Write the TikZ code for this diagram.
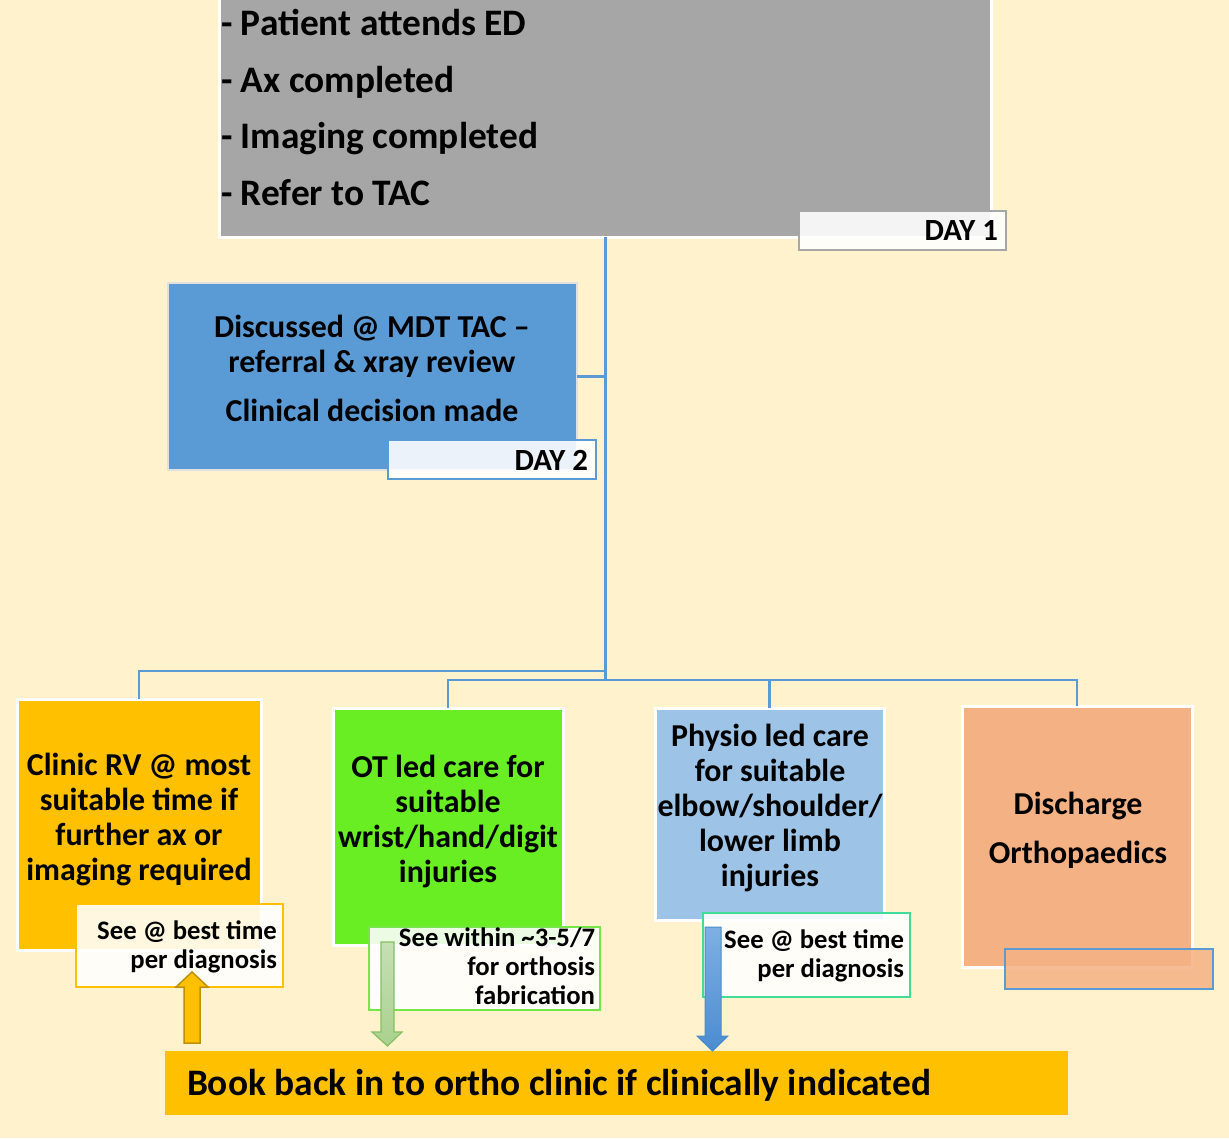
\documentclass[tikz,border=0pt]{standalone}
\usepackage{fontspec}
\setmainfont{Carlito}
\definecolor{bgc}{HTML}{FFF2CC}
\definecolor{grayc}{HTML}{A6A6A6}
\definecolor{blued}{HTML}{5B9BD5}
\definecolor{orangec}{HTML}{FFC000}
\definecolor{greenc}{HTML}{68EE22}
\definecolor{bluel}{HTML}{9DC3E6}
\definecolor{salmonc}{HTML}{F4B183}
\definecolor{tealc}{HTML}{40DC98}
\definecolor{greenb}{HTML}{74E646}
\definecolor{arrG}{HTML}{A9D18E}
\definecolor{arrGl}{HTML}{C5E0B4}
\definecolor{arrGd}{HTML}{86BF63}
\definecolor{arrO}{HTML}{BF9000}
\definecolor{arrB}{HTML}{4A8CD0}
\definecolor{arrBl}{HTML}{7FB0E2}
\begin{document}
\begin{tikzpicture}[x=1pt,y=-1pt,
  box/.style={rectangle, inner sep=0pt, outer sep=0pt, draw=white, line width=3pt},
  tag/.style={rectangle, inner sep=0pt, outer sep=0pt, fill=white, fill opacity=0.88, line width=2.2pt},
  conn/.style={draw=blued, line width=2.5pt},
  tbig/.style={inner sep=0pt, outer sep=0pt, anchor=base west, font=\bfseries\fontsize{37.4}{44}\selectfont},
  tmid/.style={inner sep=0pt, outer sep=0pt, anchor=base, font=\bfseries\fontsize{31.9}{38}\selectfont},
  tsm/.style={inner sep=0pt, outer sep=0pt, anchor=base east, font=\bfseries\fontsize{26.7}{32}\selectfont},
  tday/.style={inner sep=0pt, outer sep=0pt, anchor=base east, font=\bfseries\fontsize{30.8}{36}\selectfont}]
\useasboundingbox (0,0) rectangle (1229,1138);
\fill[bgc] (0,0) rectangle (1229,1138);

% top box
\node[box, fill=grayc, minimum width=772, minimum height=247] (top) at (605,113.5) {};
\node[tbig] (l1) at (221,35) {- Patient attends ED};
\node[tbig] (l2) at (221,92) {- Ax completed};
\node[tbig] (l3) at (221,148) {- Imaging completed};
\node[tbig] (l4) at (221,205) {- Refer to TAC};
\node[tag, draw=grayc, minimum width=207, minimum height=39] (d1) at (902.5,230.5) {};
\node[tday] (d1t) at (998,240) {DAY 1};

% trunk
\coordinate (j1) at (605,671);
\coordinate (j2) at (605,680);
\draw[conn, line width=3pt] (top.south) -- (j2);

% MDT
\node[box, fill=blued, draw=black!12, line width=2.5pt, minimum width=409, minimum height=187] (mdt) at (372.5,376.5) {};
\draw[conn] (mdt.east) -- (mdt.east -| top.south);
\node[tmid] (m1) at (372,337) {Discussed @ MDT TAC –};
\node[tmid] (m2) at (372,372) {referral \& xray review};
\node[tmid] (m3) at (372,421) {Clinical decision made};
\node[tag, draw=blued, minimum width=208, minimum height=39] (d2) at (492,459.5) {};
\node[tday] (d2t) at (588,470) {DAY 2};

% bottom boxes
\node[box, fill=orangec, minimum width=244, minimum height=251] (clinic) at (139,824.5) {};
\node[box, fill=greenc, minimum width=230, minimum height=237] (ot) at (448,826.5) {};
\node[box, fill=bluel, minimum width=229, minimum height=212] (physio) at (769.5,814) {};
\node[box, fill=salmonc, minimum width=230, minimum height=261] (dis) at (1077,836.5) {};

% branches
\draw[conn] (j1) -| (clinic.north);
\draw[conn] (j2) -| (ot.north);
\draw[conn] (j2) -| (physio.north);
\draw[conn] (j2) -| (dis.north);

% box texts
\node[tmid] (c1) at (139,775) {Clinic RV @ most};
\node[tmid] (c2) at (139,810) {suitable time if};
\node[tmid] (c3) at (139,845) {further ax or};
\node[tmid] (c4) at (139,880) {imaging required};

\node[tmid] (o1) at (448,777) {OT led care for};
\node[tmid] (o2) at (448,812) {suitable};
\node[tmid] (o3) at (448,847) {wrist/hand/digit};
\node[tmid] (o4) at (448,882) {injuries};

\node[tmid] (p1) at (770,746) {Physio led care};
\node[tmid] (p2) at (770,781) {for suitable};
\node[tmid] (p3) at (770,816) {elbow/shoulder/};
\node[tmid] (p4) at (770,851) {lower limb};
\node[tmid] (p5) at (770,886) {injuries};

\node[tmid] (x1) at (1078,814) {Discharge};
\node[tmid] (x2) at (1078,863) {Orthopaedics};

% small tags
\node[tag, draw=orangec, minimum width=207, minimum height=83] (s1) at (179.5,945.5) {};
\node[tsm] (s1a) at (277,939) {See @ best time};
\node[tsm] (s1b) at (277,968) {per diagnosis};

\node[tag, draw=greenb, minimum width=231, minimum height=83] (s2) at (484.5,968.5) {};
\node[tsm] (s2a) at (595,946) {See within \textasciitilde3-5/7};
\node[tsm] (s2b) at (595,975) {for orthosis};
\node[tsm] (s2c) at (595,1004) {fabrication};

\node[tag, draw=tealc, minimum width=207, minimum height=84] (s3) at (806.5,955) {};
\node[tsm] (s3a) at (904,948) {See @ best time};
\node[tsm] (s3b) at (904,977) {per diagnosis};

\node[rectangle, inner sep=0pt, fill=salmonc, fill opacity=0.85, draw=blued, line width=2.2pt, minimum width=208, minimum height=40] (ov) at (1109,969) {};

% banner
\node[rectangle, inner sep=0pt, fill=orangec, minimum width=903, minimum height=64] (bk) at (616.5,1083) {};
\node[tbig] (bkt) at (187,1095) {Book back in to ortho clinic if clinically indicated};

% block arrows
\draw[fill=orangec, draw=arrO, line width=1.5pt] (184,1043) -- (184,987) -- (176,987) -- (192,972) -- (208,987) -- (200,987) -- (200,1043) -- cycle;
\draw[top color=arrGl, bottom color=arrG, draw=arrGd, line width=1.2pt] (381,942) -- (394,942) -- (394,1032) -- (402,1032) -- (387.5,1046) -- (372,1032) -- (381,1032) -- cycle;
\draw[top color=arrBl, bottom color=arrB, draw=arrB, line width=1pt] (705,927) -- (721,927) -- (721,1036) -- (728,1036) -- (712.5,1051) -- (697,1036) -- (705,1036) -- cycle;
\end{tikzpicture}
\end{document}
